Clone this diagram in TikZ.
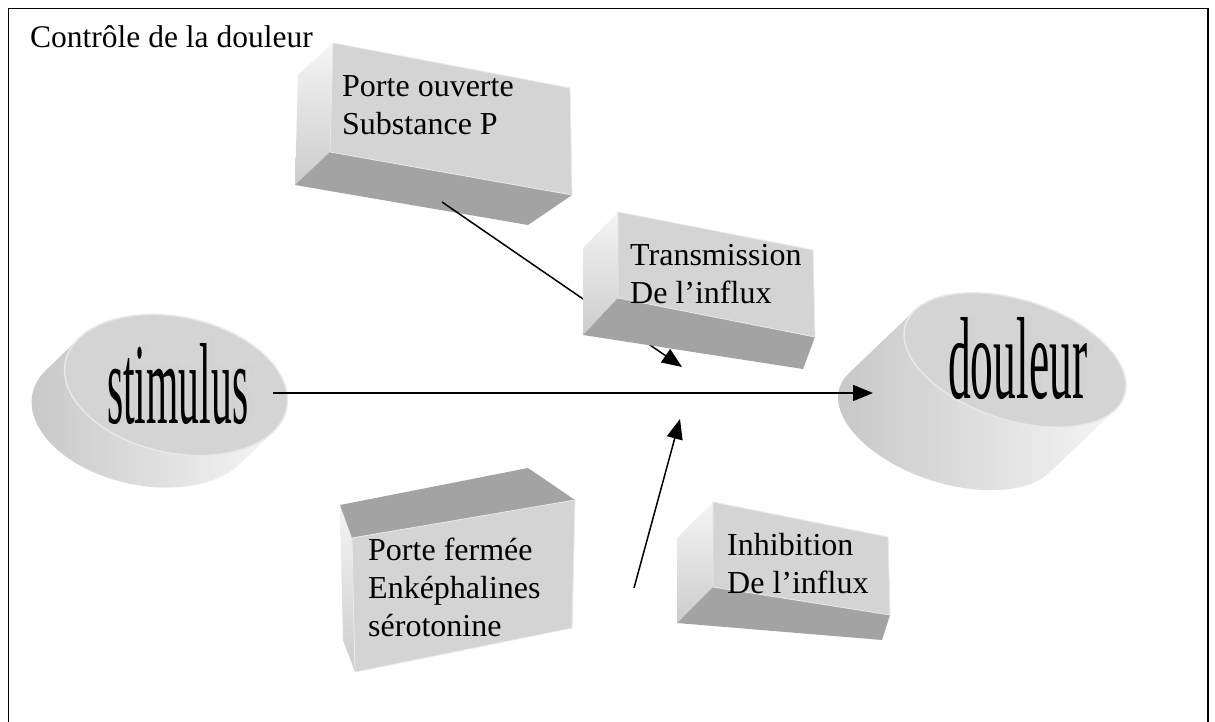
\documentclass[tikz,border=0pt]{standalone}
\usepackage{fontspec}
\setmainfont{Liberation Serif}
\usepackage{graphicx}
\usetikzlibrary{arrows.meta}
\definecolor{facegray}{RGB}{212,212,212}
\definecolor{shadegray}{RGB}{163,163,163}
\definecolor{rimgray}{RGB}{232,232,232}
\tikzset{
  frontface/.style={fill=facegray, draw=rimgray, line width=0.8pt, line join=round},
  darkface/.style={fill=shadegray},
  sideface/.style={top color=gray!8, bottom color=gray!40},
  boxtext/.style={anchor=base west, inner sep=0pt, font=\fontsize{32}{38}\selectfont},
  bigword/.style={anchor=base west, inner sep=0pt},
  ghostword/.style={anchor=base west, inner sep=0pt, text=gray!35},
  cylbody/.style={left color=gray!45, right color=gray!8},
  cyltop/.style={fill=facegray, draw=rimgray, line width=1.5pt},
  link/.style={-{Triangle[length=20pt,width=16pt]}, line width=1.5pt},
}
\newcommand{\boxlines}[1]{\begin{tabular}[t]{@{}l@{}}#1\end{tabular}}
\begin{document}
\begin{tikzpicture}[x=1pt,y=-1pt]
\useasboundingbox (0,0) rectangle (1215,722);
\fill[white] (0,0) rectangle (1215,722);

% outer frame, open at the bottom of the page
\draw[line width=1.5pt] (8.5,760) -- (8.5,8.5) -- (1208,8.5) -- (1208,760);

\node[anchor=base west, inner sep=0pt, font=\fontsize{31.5}{36}\selectfont] (title) at (30,48) {Contrôle de la douleur};

% stimulus cylinder
\begin{scope}[shift={(176,385)}, x={(0.978pt,-0.208pt)}, y={(-0.208pt,-0.978pt)}]
  \path[cylbody] (22:113 and 68) -- ++(-25.6,38.2)
    arc[start angle=22, end angle=202, x radius=113, y radius=68]
    -- (202:113 and 68) -- cycle;
  \path[cyltop] (0,0) ellipse[x radius=113, y radius=68];
\end{scope}
\node[ghostword] at (114,421) {\resizebox{141pt}{84pt}{stimulus}};
\node[bigword] (stimulus) at (107,423) {\resizebox{141pt}{80pt}{stimulus}};

% douleur cylinder
\begin{scope}[shift={(1015,360)}, x={(0.951pt,-0.309pt)}, y={(-0.309pt,-0.951pt)}]
  \path[cylbody] (15.7:115 and 60) -- ++(-43.3,80.3)
    arc[start angle=15.7, end angle=195.7, x radius=115, y radius=60]
    -- (195.7:115 and 60) -- cycle;
  \path[cyltop] (0,0) ellipse[x radius=115, y radius=60];
\end{scope}
\node[ghostword] at (955,400) {\resizebox{139pt}{84pt}{douleur}};
\node[bigword] (douleur) at (948,398) {\resizebox{139pt}{81pt}{douleur}};

% box: Porte ouverte
\path[sideface] (333,43) -- (298,75) -- (295,185) -- (330,152) -- cycle;
\path[darkface] (330,152) -- (572,195) -- (528,225) -- (295,185) -- cycle;
\path[frontface] (333,43) -- (570,88) -- (572,195) -- (330,152) -- cycle;
\node[boxtext] (ouverte) at (342,97) {\boxlines{Porte ouverte\\Substance P}};

% connector from the open gate, passing behind the transmission box
\coordinate (ouvertefoot) at (442,202);
\coordinate (junctionup) at (682,367);
\draw[link] (ouvertefoot) -- (junctionup);

% box: Transmission
\path[sideface] (618,212) -- (583,248) -- (583,335) -- (618,298) -- cycle;
\path[darkface] (618,298) -- (815,337) -- (803,369) -- (583,335) -- cycle;
\path[frontface] (618,212) -- (813,250) -- (815,337) -- (618,298) -- cycle;
\node[boxtext] (transmission) at (630,265) {\boxlines{Transmission\\De l’influx}};

% box: Porte fermée
\path[sideface] (340,505) -- (352,538) -- (355,672) -- (343,640) -- cycle;
\path[darkface] (340,505) -- (528,468) -- (575,500) -- (352,538) -- cycle;
\path[frontface] (352,538) -- (575,500) -- (572,628) -- (355,672) -- cycle;
\node[boxtext] (fermee) at (368,560) {\boxlines{Porte fermée\\Enképhalines\\sérotonine}};

% box: Inhibition
\path[sideface] (713,502) -- (677,538) -- (677,623) -- (713,587) -- cycle;
\path[darkface] (713,587) -- (890,615) -- (882,640) -- (677,623) -- cycle;
\path[frontface] (713,502) -- (888,537) -- (890,615) -- (713,587) -- cycle;
\node[boxtext] (inhibition) at (727,555) {\boxlines{Inhibition\\De l’influx}};

% connector from the closed gate
\coordinate (fermeetail) at (634,588);
\coordinate (junctiondown) at (680,419);
\draw[link] (fermeetail) -- (junctiondown);

% main path stimulus -> douleur
\coordinate (stimout) at (273,393);
\coordinate (douleurin) at (873,393);
\draw[link] (stimout) -- (douleurin);
\end{tikzpicture}
\end{document}
